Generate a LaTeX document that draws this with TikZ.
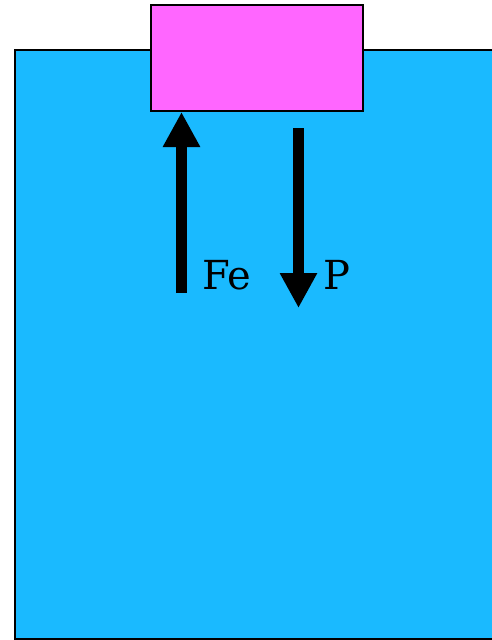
\documentclass[tikz,border=0pt]{standalone}
\usepackage{fontspec}
\setmainfont{DejaVu Serif}
\usetikzlibrary{arrows.meta, positioning}
\definecolor{waterblue}{RGB}{26, 186, 255}
\definecolor{blockpink}{RGB}{255, 102, 255}

\begin{document}
\begin{tikzpicture}[x=1pt, y=-1pt,
    force/.style={line width=11pt, -{Triangle[width=35pt, length=35pt]}},
    lbl/.style={font=\fontsize{40}{40}\selectfont, inner sep=0pt, anchor=base west}]
                    \useasboundingbox (0,0) rectangle (492,640);
                    % Liquid and floating block
                    \draw[line width=2pt, fill=waterblue] (15,50) rectangle (500,639);
                    \node[draw, line width=2pt, fill=blockpink, minimum width=212pt, minimum height=106pt, inner sep=0pt] (block) at (257,58) {};

                    % Forces
                    \coordinate (feStart) at (181.5,293);
                    \coordinate (feEnd) at (181.5,112);
                    \coordinate (pStart) at (298.5,128);
                    \coordinate (pEnd) at (298.5,308);
                    \draw[force] (feStart) -- (feEnd);
                    \draw[force] (pStart) -- (pEnd);

                    \node[lbl] (fe) at (202,289) {Fe};
                    \node[lbl] (p) at (323,289) {P};
                \end{tikzpicture}
\end{document}
